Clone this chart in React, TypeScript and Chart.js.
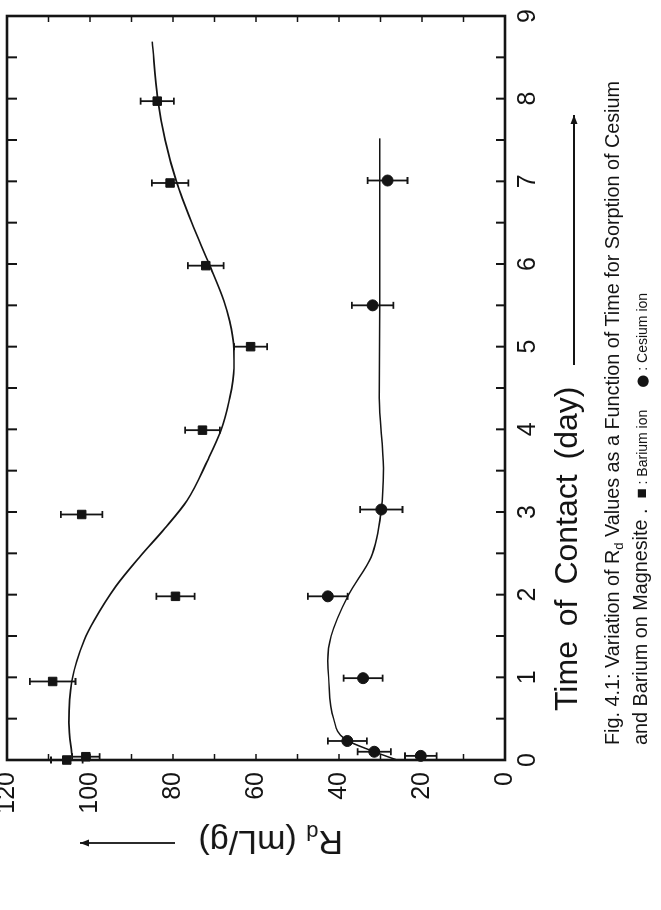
import React, { useEffect, useRef } from "react";
import { Chart, registerables } from "chart.js";

Chart.register(...registerables);

// ---- data ----
const dayTicks = [0, 1, 2, 3, 4, 5, 6, 7, 8, 9];
const rdTicks = [0, 20, 40, 60, 80, 100, 120];

const bariumDays = [0.0, 0.04, 0.95, 1.98, 2.97, 3.99, 5.0, 5.98, 6.98, 7.97];
const bariumRd = [105.6, 101.0, 109.0, 79.4, 102.0, 72.9, 61.3, 72.1, 80.7, 83.8];
const bariumErr = [3.8, 3.3, 5.5, 4.6, 5.0, 4.2, 4.0, 4.3, 4.4, 4.0];

const cesiumDays = [0.05, 0.1, 0.23, 0.99, 1.98, 3.03, 5.5, 7.01];
const cesiumRd = [20.3, 31.5, 38.0, 34.2, 42.7, 29.8, 31.9, 28.3];
const cesiumErr = [3.8, 4.0, 4.7, 4.7, 4.8, 5.1, 5.0, 4.8];

const bariumFitDays = [0.03, 0.45, 0.95, 1.45, 1.69, 2.1, 2.47, 2.8, 3.14, 3.62, 3.98, 4.34, 4.74, 5.03, 5.3, 5.55, 6.0, 6.5, 7.0, 7.5, 8.0, 8.69];
const bariumFitRd = [104.3, 105.1, 104.4, 101.4, 99.0, 93.8, 87.8, 82.0, 76.6, 71.7, 68.5, 66.5, 65.3, 65.4, 66.3, 67.7, 71.3, 75.5, 79.2, 81.9, 83.7, 85.0];

const cesiumFitDays = [0.0, 0.1, 0.25, 0.5, 1.0, 1.2, 1.5, 2.0, 2.45, 3.03, 3.53, 4.38, 5.5, 7.52];
const cesiumFitRd = [26.0, 31.5, 38.5, 41.3, 42.5, 42.7, 41.9, 37.7, 32.3, 29.8, 29.3, 30.3, 30.2, 30.2];

const INK = "#141414";

const toPts = (xs: number[], ys: number[]) => xs.map((x, i) => ({ x, y: ys[i] }));

const framePlugin = {
  id: "frame",
  beforeDatasetsDraw(chart: any) {
    const ctx = chart.ctx;
    const xs = chart.scales.x;
    const ys = chart.scales.y;
    ctx.save();
    ctx.strokeStyle = INK;
    ctx.lineWidth = 1.8;
    chart.data.datasets.forEach((ds: any) => {
      if (!ds.errors) return;
      ds.data.forEach((p: any, i: number) => {
        const e = ds.errors[i];
        const px = xs.getPixelForValue(p.x);
        const y1 = ys.getPixelForValue(p.y - e);
        const y2 = ys.getPixelForValue(p.y + e);
        ctx.beginPath();
        ctx.moveTo(px, y1);
        ctx.lineTo(px, y2);
        ctx.moveTo(px - 3.5, y1);
        ctx.lineTo(px + 3.5, y1);
        ctx.moveTo(px - 3.5, y2);
        ctx.lineTo(px + 3.5, y2);
        ctx.stroke();
      });
    });
    ctx.restore();
  },
  afterDraw(chart: any) {
    const ctx = chart.ctx;
    const { left, right, top, bottom } = chart.chartArea;
    const xs = chart.scales.x;
    const ys = chart.scales.y;
    ctx.save();
    ctx.strokeStyle = INK;
    ctx.fillStyle = INK;
    // ticks along day axis (bottom & top), every half day
    for (let d = 0.5; d < 9; d += 0.5) {
      const px = xs.getPixelForValue(d);
      ctx.lineWidth = 2;
      ctx.beginPath();
      ctx.moveTo(px, bottom);
      ctx.lineTo(px, bottom - 9);
      ctx.moveTo(px, top);
      ctx.lineTo(px, top + 10);
      ctx.stroke();
    }
    // ticks along Rd axis (left & right), every 10
    for (let r = 10; r < 120; r += 10) {
      const py = ys.getPixelForValue(r);
      ctx.lineWidth = 1.5;
      ctx.beginPath();
      ctx.moveTo(left, py);
      ctx.lineTo(left + 6, py);
      ctx.moveTo(right, py);
      ctx.lineTo(right - 6, py);
      ctx.stroke();
    }
    // frame
    ctx.lineWidth = 2.6;
    ctx.strokeRect(left, top, right - left, bottom - top);

    // axis-title arrows
    const arrow = (x1: number, y1: number, x2: number, y2: number) => {
      ctx.lineWidth = 1.8;
      ctx.beginPath();
      ctx.moveTo(x1, y1);
      ctx.lineTo(x2, y2);
      ctx.stroke();
      const a = Math.atan2(y2 - y1, x2 - x1);
      const L = 9, W = 3.5;
      ctx.beginPath();
      ctx.moveTo(x2, y2);
      ctx.lineTo(x2 - L * Math.cos(a) - W * Math.sin(a), y2 - L * Math.sin(a) + W * Math.cos(a));
      ctx.lineTo(x2 - L * Math.cos(a) + W * Math.sin(a), y2 - L * Math.sin(a) - W * Math.cos(a));
      ctx.closePath();
      ctx.fill();
    };
    arrow(545, 574, 795, 574); // day title arrow
    arrow(67, 175, 67, 80); // Rd title arrow
    ctx.restore();
  },
};

export default function App() {
  const ref = useRef<HTMLCanvasElement>(null);

  useEffect(() => {
    if (!ref.current) return;
    const tickFont = { family: '"Liberation Sans Narrow", "Liberation Sans", sans-serif', size: 25 };
    const chart = new Chart(ref.current, {
      type: "scatter",
      data: {
        datasets: [
          {
            type: "line",
            label: "Barium fit",
            data: toPts(bariumFitDays, bariumFitRd),
            showLine: true,
            borderColor: INK,
            borderWidth: 1.7,
            pointRadius: 0,
            cubicInterpolationMode: "monotone",
            fill: false,
            clip: false,
          } as any,
          {
            type: "line",
            label: "Cesium fit",
            data: toPts(cesiumFitDays, cesiumFitRd),
            showLine: true,
            borderColor: INK,
            borderWidth: 1.5,
            pointRadius: 0,
            cubicInterpolationMode: "monotone",
            fill: false,
            clip: false,
          } as any,
          {
            label: "Barium ion",
            data: toPts(bariumDays, bariumRd),
            errors: bariumErr,
            pointStyle: "rect",
            pointRadius: 6,
            backgroundColor: INK,
            borderColor: INK,
            borderWidth: 1,
            clip: false,
          } as any,
          {
            label: "Cesium ion",
            data: toPts(cesiumDays, cesiumRd),
            errors: cesiumErr,
            pointStyle: "circle",
            pointRadius: 5.5,
            backgroundColor: INK,
            borderColor: INK,
            borderWidth: 1,
            clip: false,
          } as any,
        ],
      },
      options: {
        responsive: false,
        animation: false,
        devicePixelRatio: 1,
        events: [],
        layout: { padding: { left: 0, top: 6, right: 16, bottom: 0 } },
        plugins: { legend: { display: false }, tooltip: { enabled: false } },
        scales: {
          x: {
            type: "linear",
            min: 0,
            max: 9,
            grid: { display: false, drawTicks: false },
            border: { display: false },
            afterBuildTicks: (s: any) => {
              s.ticks = dayTicks.map((v) => ({ value: v }));
            },
            ticks: { color: INK, padding: 8, font: tickFont },
            afterFit: (s: any) => {
              s.height = 156;
              s.paddingLeft = 0;
              s.paddingRight = 0;
            },
          },
          y: {
            type: "linear",
            min: 0,
            max: 120,
            grid: { display: false, drawTicks: false },
            border: { display: false },
            afterBuildTicks: (s: any) => {
              s.ticks = rdTicks.map((v) => ({ value: v }));
            },
            ticks: { color: INK, padding: 12, font: tickFont },
            afterFit: (s: any) => {
              s.width = 150;
              s.paddingTop = 0;
              s.paddingBottom = 0;
            },
          },
        },
      },
      plugins: [framePlugin],
    });
    return () => chart.destroy();
  }, []);

  const sans = '"Liberation Sans", Arial, sans-serif';
  const narrow = '"Liberation Sans Narrow", "Liberation Sans", sans-serif';

  return (
    <div
      style={{
        position: "fixed",
        left: 0,
        top: 0,
        width: 910,
        height: 661,
        transformOrigin: "0 0",
        transform: "translateY(910px) rotate(-90deg)",
        background: "#fff",
        color: INK,
      }}
    >
      <canvas ref={ref} width={910} height={661} style={{ position: "absolute", left: 0, top: 0, width: 910, height: 661 }} />
      <div
        style={{
          position: "absolute",
          left: 199,
          top: 550,
          fontFamily: sans,
          fontSize: 32,
          lineHeight: "32px",
          wordSpacing: 6,
          whiteSpace: "nowrap",
        }}
      >
        Time of Contact (day)
      </div>
      <div
        style={{
          position: "absolute",
          left: 165,
          top: 601,
          fontFamily: narrow,
          fontSize: 19.8,
          lineHeight: "22px",
          whiteSpace: "nowrap",
        }}
      >
        Fig. 4.1: Variation of R<sub style={{ fontSize: 13, verticalAlign: "-4px" }}>d</sub> Values as a Function of Time for Sorption of Cesium
      </div>
      <div
        style={{
          position: "absolute",
          left: 165,
          top: 629,
          fontFamily: narrow,
          fontSize: 19.8,
          lineHeight: "22px",
          whiteSpace: "nowrap",
        }}
      >
        and Barium on Magnesite .
        <span style={{ marginLeft: 10, fontSize: 14 }}>
          <span style={{ fontSize: 17 }}>■</span> : Barium ion
        </span>
        <span style={{ marginLeft: 22, fontSize: 14 }}>
          <span style={{ fontSize: 15, fontFamily: '"DejaVu Sans", sans-serif' }}>●</span> : Cesium ion
        </span>
      </div>
      <div
        style={{
          position: "absolute",
          left: 50,
          top: 343,
          transformOrigin: "0 0",
          transform: "rotate(-90deg)",
          fontFamily: sans,
          fontSize: 34,
          lineHeight: "34px",
          whiteSpace: "nowrap",
        }}
      >
        R<sub style={{ fontSize: 22, verticalAlign: "-6px" }}>d</sub> (mL/g)
      </div>
    </div>
  );
}
